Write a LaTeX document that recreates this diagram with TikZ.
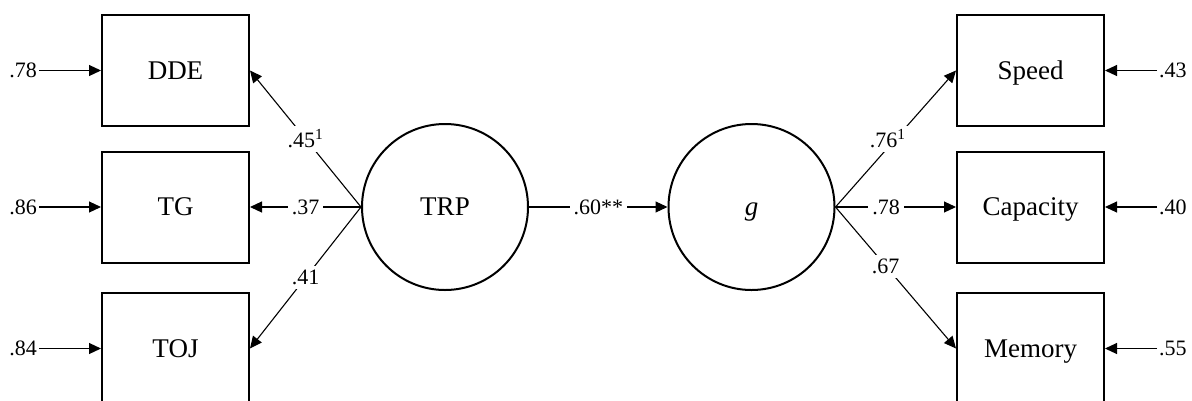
\documentclass[tikz,border=0pt]{standalone}
\usepackage{fontspec}
\setmainfont{Liberation Serif}
\usetikzlibrary{arrows.meta}
\begin{document}
\begin{tikzpicture}[x=1pt,y=-1pt,
  box/.style={draw, line width=2pt, minimum width=147pt, minimum height=111pt, inner sep=0pt, text height=17.8pt, text depth=0pt, font=\fontsize{27}{32}\selectfont},
  latent/.style={draw, circle, line width=2pt, minimum size=166pt, inner sep=0pt, text height=17.8pt, text depth=0pt, font=\fontsize{27}{32}\selectfont},
  pth/.style={line width=1.1pt, -{Triangle[length=12pt,width=11pt]}},
  lab/.style={fill=white, inner sep=4pt, font=\fontsize{22}{26}\selectfont},
  res/.style={inner sep=2pt, font=\fontsize{22}{26}\selectfont}]
\useasboundingbox (0,0) rectangle (1192,400);
% observed
\node[box] (DDE) at (175.5,70.5) {DDE};
\node[box] (TG) at (175.5,207) {TG};
\node[box] (TOJ) at (175.5,348.5) {TOJ};
\node[box] (Speed) at (1030.5,70.5) {Speed};
\node[box] (Capacity) at (1030.5,207) {Capacity};
\node[box] (Memory) at (1030.5,348.5) {Memory};
% latent
\node[latent] (TRP) at (445,207) {TRP};
\node[latent] (g) at (751.5,207) {\textit{g}};
% residuals
\node[res, anchor=east] (r1) at (39,70.5) {.78};
\node[res, anchor=east] (r2) at (39,207) {.86};
\node[res, anchor=east] (r3) at (39,348.5) {.84};
\node[res, anchor=west] (r4) at (1157,70.5) {.43};
\node[res, anchor=west] (r5) at (1157,207) {.40};
\node[res, anchor=west] (r6) at (1157,348.5) {.55};
\draw[pth] (r1.east) -- (DDE.west);
\draw[pth] (r2.east) -- (TG.west);
\draw[pth] (r3.east) -- (TOJ.west);
\draw[pth] (r4.west) -- (Speed.east);
\draw[pth] (r5.west) -- (Capacity.east);
\draw[pth] (r6.west) -- (Memory.east);
% loadings
\draw[pth] (TRP.west) -- node[lab]{.45\textsuperscript{1}} (DDE.east);
\draw[pth] (TRP.west) -- node[lab]{.37} (TG.east);
\draw[pth] (TRP.west) -- node[lab]{.41} (TOJ.east);
\draw[pth] (TRP.east) -- node[lab]{.60**} (g.west);
\draw[pth] (g.east) -- node[lab, pos=0.5, xshift=-8pt]{.76\textsuperscript{1}} (Speed.west);
\draw[pth] (g.east) -- node[lab, pos=0.42]{.78} (Capacity.west);
\draw[pth] (g.east) -- node[lab, pos=0.45, xshift=-4pt, yshift=4pt]{.67} (Memory.west);
\end{tikzpicture}
\end{document}
